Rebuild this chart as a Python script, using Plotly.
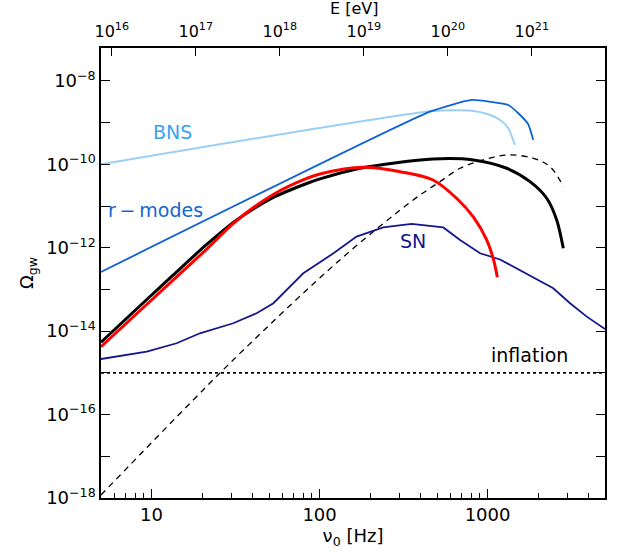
import plotly.graph_objects as go

# ---- data ----
bns_nu = [5, 475, 805, 1009, 1186, 1328, 1456]
bns_om = [1.0e-10, 1.91e-9, 1.94e-9, 1.59e-9, 1.16e-9, 7.35e-10, 2.92e-10]

rmod_nu = [5, 454, 805, 1328, 1524, 1746, 1871]
rmod_om = [2.63e-13, 1.84e-9, 3.50e-9, 2.65e-9, 1.68e-9, 9.16e-10, 3.85e-10]

blk_nu = [5, 9.79, 13.47, 21.29, 32.12, 53.04, 83.83, 100.6, 174.1, 473.4, 822.6, 1300,
          1789, 2249, 2579, 2824]
blk_om = [5.42e-15, 6.79e-14, 2.23e-13, 1.20e-12, 4.64e-12, 1.61e-11, 3.48e-11, 4.47e-11,
          8.06e-11, 1.35e-10, 1.28e-10, 8.06e-11, 3.85e-11, 1.54e-11, 4.64e-12, 9.73e-13]

red_nu = [5, 9.14, 13.47, 21.29, 32.12, 53.04, 83.83, 100.6, 182.1, 301.2, 473.4, 669.6,
          822.6, 988, 1082, 1143]
red_om = [4.25e-15, 4.02e-14, 1.69e-13, 9.30e-13, 4.50e-12, 1.90e-11, 4.59e-11, 5.89e-11,
          8.52e-11, 6.68e-11, 4.22e-11, 1.40e-11, 5.48e-12, 1.54e-12, 5.39e-13, 1.96e-13]

sn_nu = [5, 9.35, 14.1, 19.4, 30.6, 42.2, 53.1, 80.0, 121, 166, 239, 353, 545, 686, 902,
         1186, 2461, 3096, 3894, 5000]
sn_om = [2.15e-15, 3.22e-15, 5.13e-15, 8.9e-15, 1.55e-14, 2.69e-14, 4.67e-14, 2.45e-13,
         7.38e-13, 1.85e-12, 3.1e-12, 3.72e-12, 3.07e-12, 1.54e-12, 7.38e-13, 5.24e-13,
         1.07e-13, 4.67e-14, 2.23e-14, 1.12e-14]

dsh_nu = [5, 17.7, 35.2, 132, 361, 521, 686, 944, 1300, 1871, 2354, 2826]
dsh_om = [1.18e-18, 2.24e-16, 3.54e-15, 5.09e-13, 1.40e-11, 3.85e-11, 8.05e-11, 1.28e-10,
          1.68e-10, 1.40e-10, 8.8e-11, 2.92e-11]

infl_nu = [5, 5000]
infl_om = [1e-15, 1e-15]

x_major = [10, 100, 1000]
x_major_text = ["10", "100", "1000"]
x_minor = [6, 7, 8, 9, 20, 30, 40, 50, 60, 70, 80, 90, 200, 300, 400, 500, 600, 700, 800,
           900, 2000, 3000, 4000]
y_exps = list(range(-18, -7))
e_exps = [16, 17, 18, 19, 20, 21]
e_vals = [10.0 ** e for e in e_exps]

FONT = "DejaVu Sans"

fig = go.Figure()

fig.add_trace(go.Scatter(x=bns_nu, y=bns_om, mode="lines",
                         line=dict(color="#9ACFF5", width=2, shape="spline", smoothing=0.6)))
fig.add_trace(go.Scatter(x=rmod_nu, y=rmod_om, mode="lines",
                         line=dict(color="#0F62D2", width=1.8, shape="spline", smoothing=0.4)))
fig.add_trace(go.Scatter(x=dsh_nu, y=dsh_om, mode="lines",
                         line=dict(color="black", width=1.3, dash="6px,5px", shape="spline")))
fig.add_trace(go.Scatter(x=sn_nu, y=sn_om, mode="lines",
                         line=dict(color="#14168C", width=1.8)))
fig.add_trace(go.Scatter(x=blk_nu, y=blk_om, mode="lines",
                         line=dict(color="black", width=3, shape="spline", smoothing=0.8)))
fig.add_trace(go.Scatter(x=red_nu, y=red_om, mode="lines",
                         line=dict(color="#FF0000", width=3, shape="spline", smoothing=1.0)))
fig.add_trace(go.Scatter(x=infl_nu, y=infl_om, mode="lines",
                         line=dict(color="black", width=1.6, dash="dot")))
# invisible trace to anchor the top energy axis
fig.add_trace(go.Scatter(x=e_vals, y=[1e-18] * len(e_vals), xaxis="x2",
                         mode="markers", marker=dict(opacity=0), hoverinfo="skip"))

fig.update_layout(
    width=622, height=560,
    margin=dict(l=101, r=17, t=48, b=62),
    plot_bgcolor="white", paper_bgcolor="white",
    showlegend=False,
    font=dict(family=FONT, size=18, color="black"),
    xaxis=dict(type="log", range=[0.69897, 3.69897],
               tickmode="array", tickvals=x_major, ticktext=x_major_text,
               ticks="inside", ticklen=9, tickwidth=1.3, tickcolor="black",
               showline=True, linecolor="black", linewidth=1.5, mirror=False,
               showgrid=False, zeroline=False,
               minor=dict(tickmode="array", tickvals=x_minor, ticks="inside", ticklen=5,
                          tickwidth=1.3, tickcolor="black", showgrid=False),
               title=dict(text="ν<sub>0</sub> [Hz]", standoff=4, font=dict(size=18))),
    xaxis2=dict(type="log", overlaying="x", side="top", anchor="y",
                range=[15.872, 21.872],
                tickmode="array", tickvals=e_vals,
                ticktext=["10<sup>%d</sup>" % e for e in e_exps],
                ticks="inside", ticklen=8, tickwidth=1.3, tickcolor="black",
                showline=True, linecolor="black", linewidth=1.5,
                showgrid=False, zeroline=False,
                ticklabelstandoff=3,
                tickfont=dict(size=16)),
    yaxis=dict(type="log", range=[-18, -7.21],
               tickmode="array", tickvals=[10.0 ** e for e in y_exps],
               ticktext=[("10<sup>−%d</sup>" % (-e)) if e % 2 == 0 else "" for e in y_exps],
               ticks="inside", ticklen=9, tickwidth=1.3, tickcolor="black",
               showline=True, linecolor="black", linewidth=1.5, mirror="ticks",
               showgrid=False, zeroline=False,
               title=dict(text="Ω<sub>gw</sub>", standoff=8, font=dict(size=18))),
)

# top-axis title, placed close to the tick labels as in the reference
fig.add_annotation(x=0.501, y=1.088, xref="paper", yref="paper", text="E [eV]",
                   yanchor="middle", showarrow=False,
                   font=dict(size=16, color="black", family=FONT))

annots = [
    dict(text="BNS", x=1.122, y=-9.235, color="#3AA2F2"),
    dict(text="r\u2009−\u2009modes", x=1.026, y=-11.094, color="#1466D0"),
    dict(text="SN", x=2.556, y=-11.837, color="#14168C"),
    dict(text="inflation", x=3.247, y=-14.571, color="black"),
]
for a in annots:
    fig.add_annotation(x=a["x"], y=a["y"], xref="x", yref="y", text=a["text"],
                       showarrow=False, font=dict(size=19, color=a["color"], family=FONT))

fig.write_html("out.html")
